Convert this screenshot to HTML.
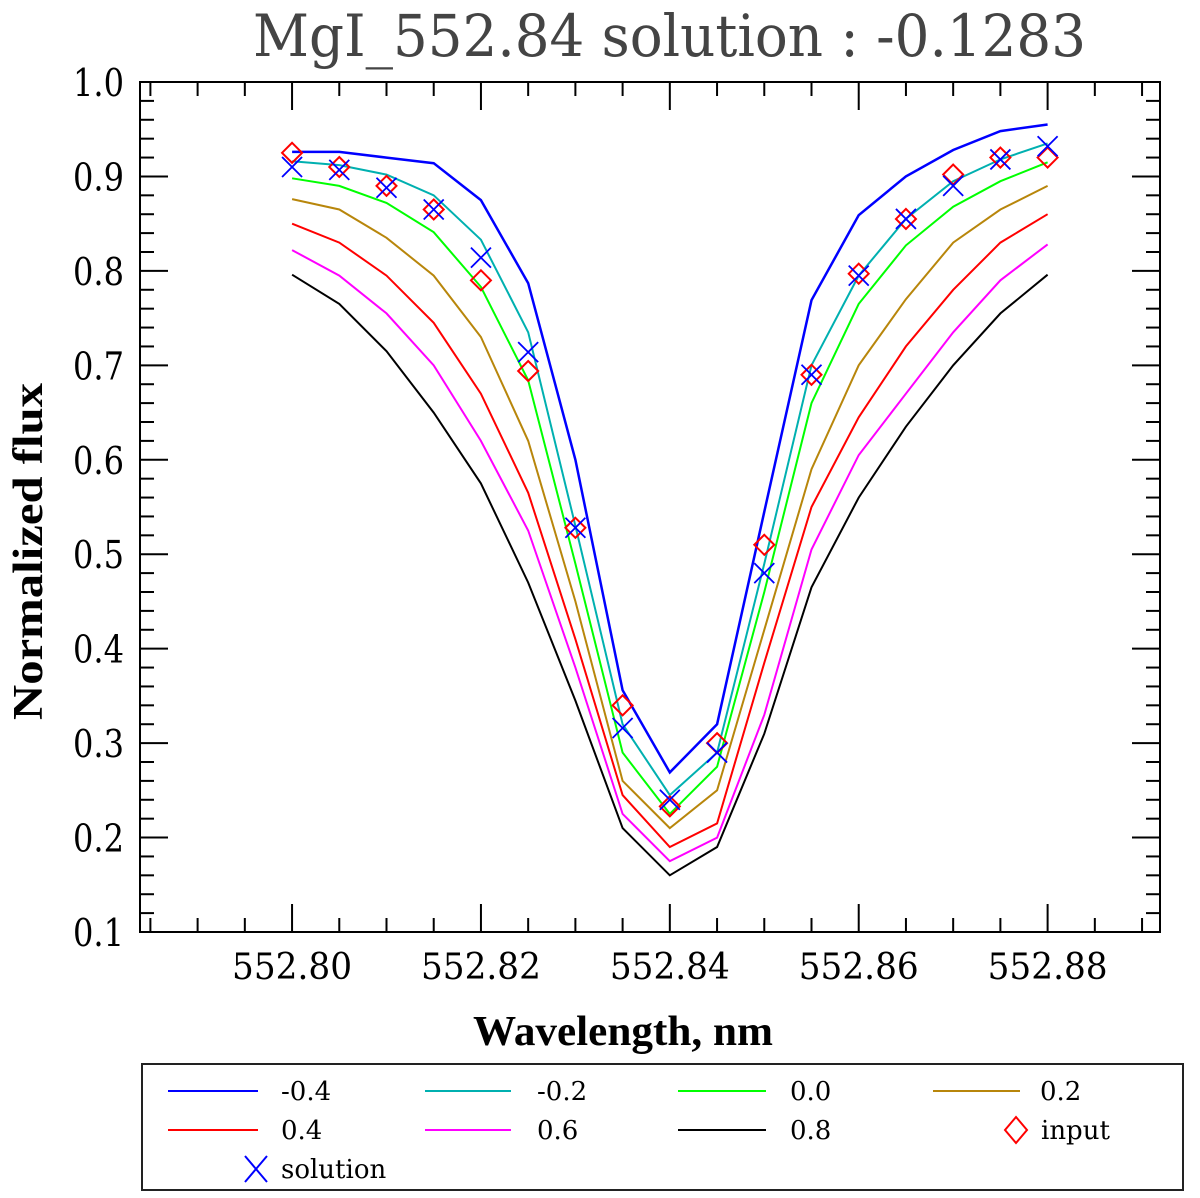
<!DOCTYPE html>
<html><head><meta charset="utf-8"><style>
body{margin:0;background:#fff;}
svg{display:block;font-family:"DejaVu Serif","Liberation Serif",serif;}
</style></head><body>
<svg id="chart" width="1200" height="1198" viewBox="0 0 1200 1198" xmlns="http://www.w3.org/2000/svg">
<text x="253" y="56" font-size="58" fill="#444" textLength="833" lengthAdjust="spacingAndGlyphs">MgI_552.84 solution : -0.1283</text>
<rect x="140" y="82" width="1020" height="850" fill="none" stroke="#000" stroke-width="2"/>
<g id="ticks"></g>
<g id="series"></g>
<text x="473" y="1045" font-size="42" font-weight="bold" font-family="Liberation Serif, serif" textLength="300" lengthAdjust="spacingAndGlyphs">Wavelength, nm</text>
<text transform="translate(42,720) rotate(-90)" font-size="42" font-weight="bold" font-family="Liberation Serif, serif" textLength="337" lengthAdjust="spacingAndGlyphs">Normalized flux</text>
<g>
<rect x="142" y="1064" width="1041" height="126" fill="none" stroke="#222" stroke-width="2"/>
<g id="legend" font-size="26"></g>
</g>
</svg>
<script>
const xs=[552.800,552.805,552.810,552.815,552.820,552.825,552.830,552.835,552.840,552.845,552.850,552.855,552.860,552.865,552.870,552.875,552.880];
const labels=["-0.4","-0.2","0.0","0.2","0.4","0.6","0.8"];
const colors=["#0000ff","#00b0b0","#00ff00","#b8860b","#ff0000","#ff00ff","#000000"];
const sM04=[0.926,0.926,0.920,0.914,0.875,0.787,0.600,0.356,0.269,0.320,0.545,0.769,0.859,0.900,0.928,0.948,0.955];
const sM02=[0.916,0.912,0.902,0.880,0.833,0.735,0.530,0.320,0.245,0.290,0.490,0.700,0.795,0.855,0.895,0.918,0.935];
const s00=[0.898,0.890,0.872,0.841,0.783,0.684,0.490,0.290,0.225,0.275,0.460,0.660,0.765,0.827,0.868,0.895,0.915];
const s02=[0.876,0.865,0.835,0.795,0.730,0.620,0.450,0.260,0.210,0.250,0.420,0.590,0.700,0.770,0.830,0.865,0.890];
const s04=[0.850,0.830,0.795,0.745,0.670,0.565,0.410,0.245,0.190,0.215,0.385,0.550,0.645,0.720,0.780,0.830,0.860];
const s06=[0.822,0.795,0.755,0.700,0.620,0.525,0.380,0.225,0.175,0.200,0.330,0.505,0.605,0.670,0.735,0.790,0.828];
const s08=[0.796,0.765,0.715,0.650,0.575,0.470,0.345,0.210,0.160,0.190,0.310,0.465,0.560,0.635,0.700,0.755,0.796];
const inputVals=[0.925,0.910,0.890,0.865,0.790,0.694,0.528,0.340,0.233,0.300,0.510,0.690,0.797,0.855,0.902,0.920,0.920];
const solutionVals=[0.910,0.907,0.888,0.865,0.814,0.714,0.528,0.316,0.240,0.290,0.480,0.690,0.795,0.855,0.890,0.918,0.932];
const xTicks=["552.80","552.82","552.84","552.86","552.88"];
const yTicks=["0.1","0.2","0.3","0.4","0.5","0.6","0.7","0.8","0.9","1.0"];

const NS="http://www.w3.org/2000/svg";
const X0=140,X1=1160,Y0=82,Y1=932;
const xmin=552.7839,xmax=552.8919,ymin=0.1,ymax=1.0;
function sx(v){return X0+(v-xmin)/(xmax-xmin)*(X1-X0);}
function sy(v){return Y1-(v-ymin)/(ymax-ymin)*(Y1-Y0);}
function mk(tag,attrs,parent){const e=document.createElementNS(NS,tag);for(const k in attrs)e.setAttribute(k,attrs[k]);parent.appendChild(e);return e;}

const tg=document.getElementById('ticks');
for(let i=-3;i<=22;i++){
  const v=552.80+i*0.005; const px=sx(v);
  if(px<=X0+1||px>=X1-1)continue;
  const major=(i%4===0);const L=major?28:14;
  const t1=mk('line',{x1:px,x2:px,y1:Y1,y2:Y1-L,stroke:'#000','stroke-width':2},tg);
  
  
  const t2=mk('line',{x1:px,x2:px,y1:Y0,y2:Y0+L,stroke:'#000','stroke-width':2},tg);
  
  
}
xTicks.forEach(s=>{
  const t=mk('text',{x:sx(parseFloat(s))-60,y:979,'font-size':36,textLength:120,lengthAdjust:'spacingAndGlyphs'},tg);
  t.textContent=s;
  
  
});
for(let i=0;i<=45;i++){
  const v=0.1+i*0.02; const py=sy(v);
  if(py<=Y0+1||py>=Y1-1)continue;
  const major=(i%5===0);const L=major?28:14;
  const t1=mk('line',{x1:X0,x2:X0+L,y1:py,y2:py,stroke:'#000','stroke-width':2},tg);
  
  
  const t2=mk('line',{x1:X1,x2:X1-L,y1:py,y2:py,stroke:'#000','stroke-width':2},tg);
  
  
}
yTicks.forEach(s=>{
  const t=mk('text',{x:73,y:sy(parseFloat(s))+14,'font-size':38,textLength:51,lengthAdjust:'spacingAndGlyphs'},tg);
  t.textContent=s;
  
  
});

const sg=document.getElementById('series');
const all=[sM04,sM02,s00,s02,s04,s06,s08];
all.forEach((arr,k)=>{
  const d=arr.map((v,i)=>(i?'L':'M')+sx(xs[i]).toFixed(1)+' '+sy(v).toFixed(1)).join(' ');
  const p=mk('path',{d:d,fill:'none',stroke:colors[k],'stroke-width':k===0?2.5:2},sg);
  
  
});
inputVals.forEach((v,i)=>{
  const cx=sx(xs[i]),cy=sy(v),r=10;
  const p=mk('path',{d:`M${cx} ${cy-r} L${cx+r} ${cy} L${cx} ${cy+r} L${cx-r} ${cy} Z`,fill:'none',stroke:'#ff0000','stroke-width':2},sg);
  
  
});
solutionVals.forEach((v,i)=>{
  const cx=sx(xs[i]),cy=sy(v),r=10;
  const p=mk('path',{d:`M${cx-r} ${cy-r} L${cx+r} ${cy+r} M${cx-r} ${cy+r} L${cx+r} ${cy-r}`,fill:'none',stroke:'#0000ff','stroke-width':1.8},sg);
  
  
});

const lg=document.getElementById('legend');
const cols=[[168,258,281],[425,511,537],[678,766,790],[933,1020,1040]];
const rows=[1091,1130,1169];
labels.forEach((lab,k)=>{
  const c=cols[k%4],ry=rows[Math.floor(k/4)];
  const l=mk('line',{x1:c[0],x2:c[1],y1:ry,y2:ry,stroke:colors[k],'stroke-width':2},lg);
  
  
  const t=mk('text',{x:c[2],y:ry+9},lg);
  t.textContent=lab;
  
  
});
{
  const cx=1016,cy=1130;
  const p=mk('path',{d:`M${cx} ${cy-13} L${cx+11} ${cy} L${cx} ${cy+13} L${cx-11} ${cy} Z`,fill:'none',stroke:'#ff0000','stroke-width':2},lg);
  
  
  const t=mk('text',{x:1041,y:cy+9},lg);t.textContent='input';
  
  
  const sx0=256,sy0=1169;
  const q=mk('path',{d:`M${sx0-11} ${sy0-13} L${sx0+11} ${sy0+13} M${sx0-11} ${sy0+13} L${sx0+11} ${sy0-13}`,fill:'none',stroke:'#0000ff','stroke-width':2},lg);
  
  
  const t2=mk('text',{x:281,y:sy0+9},lg);t2.textContent='solution';
  
  
}
</script>
</body></html>
